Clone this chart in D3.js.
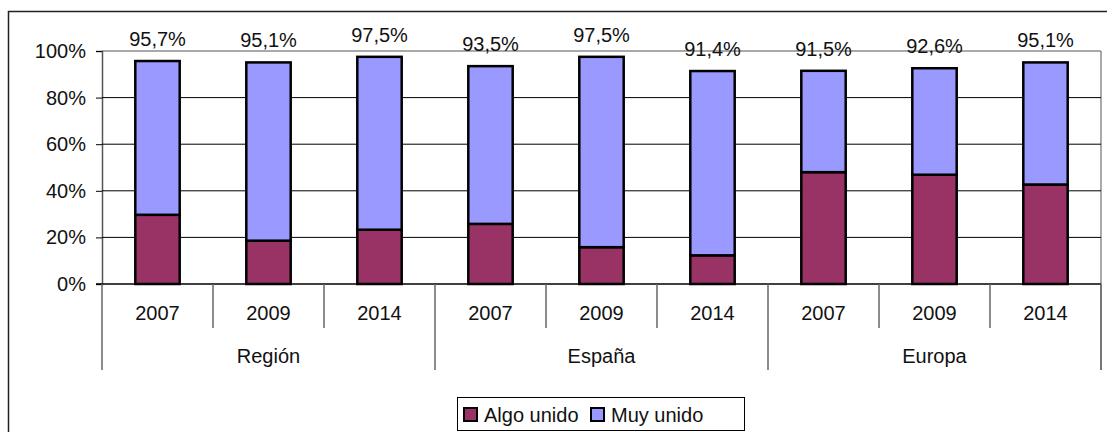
<!DOCTYPE html>
<html>
<head>
<meta charset="utf-8">
<script src="https://cdn.jsdelivr.net/npm/d3@7"></script>
<style>
  body { margin: 0; background: #fff; }
  svg { display: block; font-family: "Liberation Sans", Arial, sans-serif; }
</style>
</head>
<body>
<div id="chart"></div>
<script>
const years = ["2007", "2009", "2014", "2007", "2009", "2014", "2007", "2009", "2014"];
const groups = ["Región", "España", "Europa"];
const algoUnido = [29.7, 18.6, 23.3, 25.8, 15.8, 12.3, 48.0, 46.9, 42.7];
const muyUnido = [66.0, 76.5, 74.2, 67.7, 81.7, 79.1, 43.5, 45.7, 52.4];
const totalLabels = ["95,7%", "95,1%", "97,5%", "93,5%", "97,5%", "91,4%", "91,5%", "92,6%", "95,1%"];
const seriesNames = ["Algo unido", "Muy unido"];
const seriesColors = ["#993366", "#9999ff"];
const yTicks = [0, 20, 40, 60, 80, 100];

const width = 1107;
const height = 432;
const plot = { left: 102, right: 1101, top: 51, bottom: 284 };

const svg = d3.select("#chart")
    .append("svg")
    .attr("width", width)
    .attr("height", height);

// outer chart border (runs off the right and bottom edges)
svg.append("rect")
    .attr("x", 8.5)
    .attr("y", 11.5)
    .attr("width", 1110)
    .attr("height", 440)
    .attr("fill", "#fff")
    .attr("stroke", "#222")
    .attr("stroke-width", 1.5);

const x = d3.scaleBand()
    .domain(d3.range(years.length))
    .range([plot.left, plot.right])
    .padding(0);

const y = d3.scaleLinear()
    .domain([0, 100])
    .range([plot.bottom, plot.top]);

const barWidth = x.bandwidth() * 0.4;

// plot area frame
svg.append("line")
    .attr("x1", plot.left).attr("x2", plot.right)
    .attr("y1", plot.top).attr("y2", plot.top)
    .attr("stroke", "#8c8c8c").attr("stroke-width", 1.5);
svg.append("line")
    .attr("x1", plot.right).attr("x2", plot.right)
    .attr("y1", plot.top).attr("y2", 370)
    .attr("stroke", "#8c8c8c").attr("stroke-width", 1.5);

// gridlines + y axis
const yAxis = svg.append("g")
    .attr("transform", `translate(${plot.left},0)`)
    .call(d3.axisLeft(y)
        .tickValues(yTicks)
        .tickSize(6)
        .tickPadding(10)
        .tickFormat(d => d + "%"));
yAxis.select(".domain").attr("stroke", "#555").attr("stroke-width", 1.5);
yAxis.selectAll(".tick line").attr("stroke", "#000");
yAxis.selectAll(".tick text")
    .attr("font-size", "20px")
    .attr("fill", "#111");

svg.append("g")
    .selectAll("line")
    .data(yTicks.filter(d => d > 0 && d < 100))
    .join("line")
    .attr("x1", plot.left)
    .attr("x2", plot.right)
    .attr("y1", d => y(d))
    .attr("y2", d => y(d))
    .attr("stroke", "#000")
    .attr("stroke-width", 1);

// stacked bars
const stackData = years.map((yr, i) => ({ i, algo: algoUnido[i], muy: muyUnido[i] }));
const stacked = d3.stack().keys(["algo", "muy"])(stackData);

svg.append("g")
    .selectAll("g")
    .data(stacked)
    .join("g")
    .attr("fill", (d, k) => seriesColors[k])
    .selectAll("rect")
    .data(d => d)
    .join("rect")
    .attr("x", d => x(d.data.i) + (x.bandwidth() - barWidth) / 2)
    .attr("width", barWidth)
    .attr("y", d => y(d[1]))
    .attr("height", d => y(d[0]) - y(d[1]))
    .attr("stroke", "#000")
    .attr("stroke-width", 2.5);

// total labels above bars
svg.append("g")
    .selectAll("text")
    .data(stackData)
    .join("text")
    .attr("x", d => x(d.i) + x.bandwidth() / 2)
    .attr("y", d => y(d.algo + d.muy) - 15)
    .attr("text-anchor", "middle")
    .attr("font-size", "20px")
    .attr("fill", "#111")
    .text((d, i) => totalLabels[i]);

// category axis: baseline, year labels and group labels
svg.append("line")
    .attr("x1", plot.left - 6).attr("x2", plot.right)
    .attr("y1", plot.bottom).attr("y2", plot.bottom)
    .attr("stroke", "#000").attr("stroke-width", 1.5);

const catAxis = svg.append("g");
catAxis.selectAll("line.year")
    .data(d3.range(years.length + 1))
    .join("line")
    .attr("class", "year")
    .attr("x1", d => plot.left + d * x.bandwidth())
    .attr("x2", d => plot.left + d * x.bandwidth())
    .attr("y1", plot.bottom)
    .attr("y2", d => d % 3 === 0 ? 370 : 328)
    .attr("stroke", "#666")
    .attr("stroke-width", 1.5);

catAxis.selectAll("text.year")
    .data(years)
    .join("text")
    .attr("class", "year")
    .attr("x", (d, i) => x(i) + x.bandwidth() / 2)
    .attr("y", 320)
    .attr("text-anchor", "middle")
    .attr("font-size", "20px")
    .attr("fill", "#111")
    .text(d => d);

catAxis.selectAll("text.group")
    .data(groups)
    .join("text")
    .attr("class", "group")
    .attr("x", (d, g) => plot.left + (g * 3 + 1.5) * x.bandwidth())
    .attr("y", 363)
    .attr("text-anchor", "middle")
    .attr("font-size", "20px")
    .attr("fill", "#111")
    .text(d => d);

// legend
const legend = svg.append("g");
legend.append("rect")
    .attr("x", 457.5).attr("y", 397.5)
    .attr("width", 287).attr("height", 33)
    .attr("fill", "#fff")
    .attr("stroke", "#000")
    .attr("stroke-width", 1);

const legendX = [464, 591];
const items = legend.selectAll("g")
    .data(seriesNames)
    .join("g")
    .attr("transform", (d, i) => `translate(${legendX[i]},408)`);
items.append("rect")
    .attr("width", 13).attr("height", 13)
    .attr("fill", (d, i) => seriesColors[i])
    .attr("stroke", "#000")
    .attr("stroke-width", 2);
items.append("text")
    .attr("x", 20)
    .attr("y", 13.5)
    .attr("font-size", "20px")
    .attr("fill", "#111")
    .text(d => d);
</script>
</body>
</html>
